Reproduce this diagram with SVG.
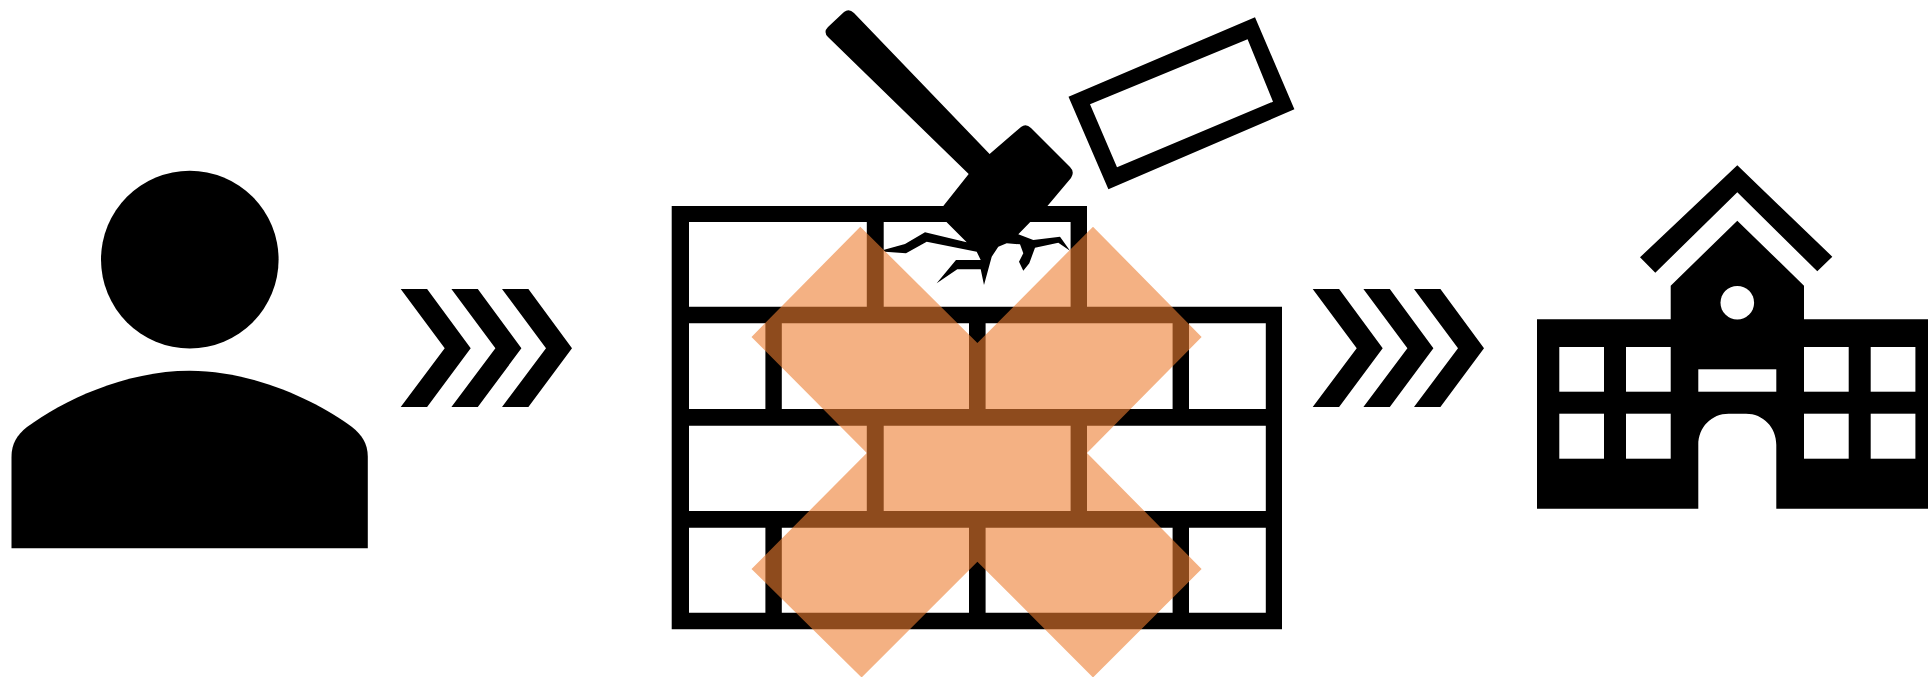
<svg xmlns="http://www.w3.org/2000/svg" width="1928" height="677" viewBox="0 0 1928 677">
<style>
.k{fill:#000}
.h{fill:#000;fill-rule:evenodd}
.w{fill:#fff}
.x{fill:#ED7D31;fill-opacity:.6}
</style>
<defs>
<path id="chev" d="M0,0H26.4L70,59.3 26.4,118H0L44,59.3Z"/>
</defs>
<rect width="1928" height="677" fill="#fff"/>
<g id="person">
<circle class="k" cx="189.8" cy="259.6" r="88.8"/>
<path class="k" d="M11.5,548.3V456.7C11.5,444 17,435 27,427C62,401 125,370.7 189.6,370.7C254,370.7 317,401 352,427C362,435 367.8,444 367.8,456.7V548.3Z"/>
</g>
<g id="connectors">
<g class="k">
<use href="#chev" x="400.7" y="289"/>
<use href="#chev" x="451.4" y="289"/>
<use href="#chev" x="502" y="289"/>
<use href="#chev" x="1312.7" y="289"/>
<use href="#chev" x="1363.4" y="289"/>
<use href="#chev" x="1414" y="289"/>
</g>
</g>
<g id="wall">
<path class="h" d="M671.7,206H1087V306.7H1282V629.3H671.7Z
M689,222V306.7H866.8V222Z
M883.7,222V306.7H1070.6V222Z
M689,323.3V409H765.4V323.3Z
M781.8,323.3V409H969V323.3Z
M985.6,323.3V409H1172.6V323.3Z
M1189,323.3V409H1265.8V323.3Z
M689,425.7V511H866.8V425.7Z
M883.7,425.7V511H1070.6V425.7Z
M1087,425.7V511H1265.8V425.7Z
M689,527.7V612.7H765.4V527.7Z
M781.8,527.7V612.7H969V527.7Z
M985.6,527.7V612.7H1172.6V527.7Z
M1189,527.7V612.7H1265.8V527.7Z"/>
</g>
<g id="hammer">
<path class="k" d="M989.6,154L854,13Q849,8 844,12L828,27Q823,32 828,37L968.7,174L942.7,206.7L946.7,222.3L966.7,242.3L925,232.3L905,244L883.3,250L885,251.7L906,253.3L926.7,241.7L976.7,251.7L980.7,260H956L936.7,283.3L957.3,269.3H980.7L984,285L988.3,269.3L991.7,256.7L998.3,246.7L1006.7,243.3L1020,244.3L1023.3,253.3L1019,261.7L1023.3,270.7L1029.3,263.3L1035,247.7L1058.3,242.7L1070,250.7L1060,236.7L1033.3,240L1018.3,234.3L1030,222.3L1046.8,206.7L1071,178Q1075,172 1070,167L1031,128Q1026,123 1021,127Z"/>
</g>
<g id="brick">
<path class="h" d="M1068.5,96.7L1255,17.3L1294.4,109.3L1108.4,189.3ZM1090,104.3L1117,167.3L1273,101.7L1247.6,39.3Z"/>
</g>
<g id="school">
<path class="k" d="M1737.3,165.3L1832.3,256.7L1817.3,271.3L1737.3,192.3L1655.3,272.7L1640,257.3Z"/>
<path class="k" d="M1537,319.3H1670.7V285.7L1737.3,220.7L1804,285.7V319.3H1930V508.7H1776.3V445C1776.3,427 1763,413.7 1746,413.7H1728.6C1711.6,413.7 1698.3,427 1698.3,445V508.7H1537Z"/>
<circle class="w" cx="1737.3" cy="302.7" r="16.8"/>
<g class="w">
<rect x="1559.3" y="347" width="44.7" height="44.7"/>
<rect x="1626" y="347" width="44.7" height="44.7"/>
<rect x="1804" y="347" width="44.7" height="44.7"/>
<rect x="1870.7" y="347" width="44.7" height="44.7"/>
<rect x="1559.3" y="413.7" width="44.7" height="45"/>
<rect x="1626" y="413.7" width="44.7" height="45"/>
<rect x="1804" y="413.7" width="44.7" height="45"/>
<rect x="1870.7" y="413.7" width="44.7" height="45"/>
<rect x="1698.3" y="369.3" width="78" height="22.4"/>
</g>
</g>
<g id="cross-mark">
<path class="x" d="M860.3,226.7L977.4,343L1093,226.7L1201.6,337L1087,453L1201.6,569L1093,677.5L977.4,561.7L861.6,677.5L751.5,569L866.8,453L751.5,337Z"/>
</g>
</svg>
